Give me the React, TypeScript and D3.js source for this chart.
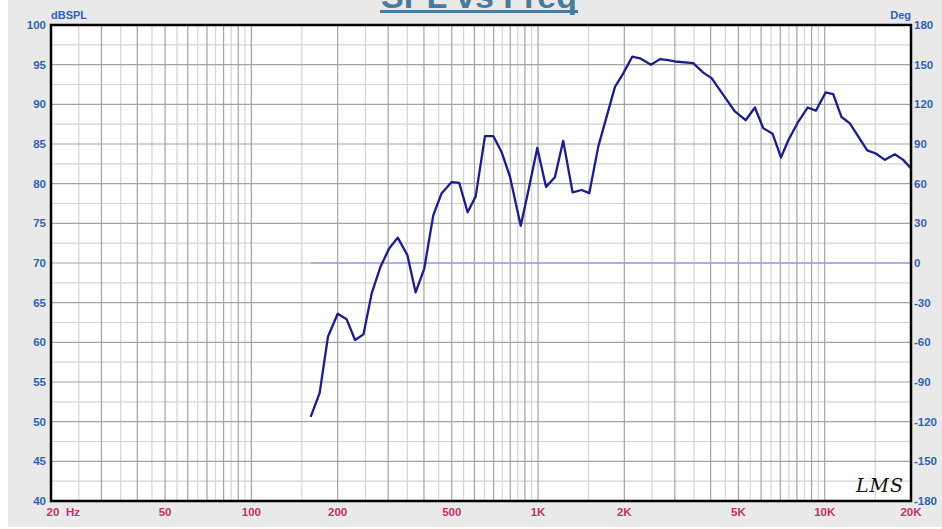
import React from "react";
import * as d3 from "d3";

// SPL response (Hz / dB)
const freqHz = [
  161, 173, 185, 200, 215, 230, 246, 263, 282, 302,
  324, 350, 374, 401, 431, 461, 500, 531, 568, 606,
  653, 698, 746, 798, 870, 924, 994, 1066, 1145, 1224,
  1320, 1419, 1509, 1623, 1855, 1983, 2131, 2267, 2477, 2662,
  2810, 3003, 3478, 3770, 4031, 4426, 4862, 5299, 5709, 6102,
  6578, 7036, 7473, 8085, 8716, 9318, 10075, 10700, 11450, 12240,
  14070, 15080, 16220, 17570, 18790, 20000,
];
const splDb = [
  50.6, 53.6, 60.7, 63.6, 62.9, 60.3, 61.0, 66.2, 69.5, 71.8,
  73.2, 71.0, 66.3, 69.3, 76.0, 78.8, 80.2, 80.1, 76.4, 78.4,
  86.0, 86.0, 84.0, 80.9, 74.7, 79.0, 84.5, 79.6, 80.8, 85.4,
  78.9, 79.2, 78.8, 84.7, 92.2, 93.9, 96.0, 95.8, 95.0, 95.7,
  95.6, 95.4, 95.2, 94.0, 93.3, 91.2, 89.1, 88.0, 89.6, 87.0,
  86.3, 83.3, 85.5, 87.8, 89.6, 89.2, 91.5, 91.3, 88.4, 87.6,
  84.2, 83.8, 83.0, 83.7, 83.0, 81.9,
];

// phase trace (flat)
const phaseHz = [161, 20000];
const phaseDeg = [0, 0];

const xTickValues = [20, 50, 100, 200, 500, 1000, 2000, 5000, 10000, 20000];
const xTickLabels = ["20", "50", "100", "200", "500", "1K", "2K", "5K", "10K", "20K"];
const dbTicks = [40, 45, 50, 55, 60, 65, 70, 75, 80, 85, 90, 95, 100];
const degTicks = [-180, -150, -120, -90, -60, -30, 0, 30, 60, 90, 120, 150, 180];

const W = 942;
const H = 529;
const M = { left: 51, right: 911, top: 25, bottom: 501 };

const FONT = "'Liberation Sans', Arial, sans-serif";
const BLUE = "#2f62b2";
const CRIMSON = "#c2306c";

export default function App() {
  const x = d3.scaleLog().domain([20, 20000]).range([M.left, M.right]);
  const y = d3.scaleLinear().domain([40, 100]).range([M.bottom, M.top]);
  const yDeg = d3.scaleLinear().domain([-180, 180]).range([M.bottom, M.top]);

  // grid: every 5 dB major, 2.5 dB minor; log grid with half steps
  const hMinor = d3.range(42.5, 100, 5);
  const vMajor: number[] = [];
  const vMinor: number[] = [];
  [10, 100, 1000, 10000].forEach((dec) => {
    for (let m = 1; m < 10; m += 0.5) {
      const f = m * dec;
      if (f <= 20 || f >= 20000) continue;
      (Number.isInteger(m) ? vMajor : vMinor).push(f);
    }
  });

  const spl = d3.line<number>()
    .x((_, i) => x(freqHz[i]))
    .y((d) => y(d));
  const phase = d3.line<number>()
    .x((_, i) => x(phaseHz[i]))
    .y((d) => yDeg(d));

  return (
    <div style={{ position: "fixed", left: 0, top: 0 }}>
      <svg width={W} height={H} style={{ display: "block" }}>
        <rect x={0} y={0} width={W} height={H} fill="#ffffff" />
        <rect x={8} y={0} width={W - 8} height={527} fill="#e9e9e9" />

        {/* title, mostly cut off at the top */}
        <text x={479} y={8} textAnchor="middle" fontFamily={FONT} fontWeight="bold"
          fontSize={34} fill="#4a7b9d">SPL vs Freq</text>
        <line x1={380} x2={578} y1={11.5} y2={11.5} stroke="#4a7b9d" strokeWidth={3} />

        <rect x={M.left} y={M.top} width={M.right - M.left} height={M.bottom - M.top} fill="#ffffff" />

        {/* grid */}
        {vMinor.map((f) => (
          <line key={"vm" + f} x1={x(f)} x2={x(f)} y1={M.top} y2={M.bottom} stroke="#d4d4d4" strokeWidth={1.2} />
        ))}
        {hMinor.map((v) => (
          <line key={"hm" + v} x1={M.left} x2={M.right} y1={y(v)} y2={y(v)} stroke="#d4d4d4" strokeWidth={1.2} />
        ))}
        {vMajor.map((f) => (
          <line key={"vM" + f} x1={x(f)} x2={x(f)} y1={M.top} y2={M.bottom} stroke="#a3a3a3" strokeWidth={1.2} />
        ))}
        {dbTicks.map((v) => (
          <line key={"hM" + v} x1={M.left} x2={M.right} y1={y(v)} y2={y(v)} stroke="#a3a3a3" strokeWidth={1.2} />
        ))}

        {/* phase */}
        <path d={phase(phaseDeg) ?? ""} fill="none" stroke="#a3a5e0" strokeWidth={1.6} />

        {/* SPL */}
        <path d={spl(splDb) ?? ""} fill="none" stroke="#1b1c8e" strokeWidth={2.3} strokeLinejoin="round" />

        <rect x={M.left} y={M.top} width={M.right - M.left} height={M.bottom - M.top}
          fill="none" stroke="#000" strokeWidth={2.5} />

        {/* left axis */}
        {dbTicks.map((v) => (
          <text key={"l" + v} x={46} y={y(v)} dy="0.36em" textAnchor="end" fontFamily={FONT}
            fontWeight="bold" fontSize={11.5} fill={BLUE}>{v}</text>
        ))}
        <text x={51} y={19} fontFamily={FONT} fontWeight="bold" fontSize={11} fill={BLUE}>dBSPL</text>

        {/* right axis */}
        {degTicks.map((v) => (
          <text key={"r" + v} x={914} y={yDeg(v)} dy="0.36em" textAnchor="start" fontFamily={FONT}
            fontWeight="bold" fontSize={11.5} fill={BLUE}>{v}</text>
        ))}
        <text x={911} y={19} textAnchor="end" fontFamily={FONT} fontWeight="bold" fontSize={11} fill={BLUE}>Deg</text>

        {/* bottom axis */}
        {xTickValues.map((f, i) => (
          <text key={"b" + f} x={i === 0 ? x(f) + 2 : x(f)} y={512} dy="0.36em" textAnchor="middle"
            fontFamily={FONT} fontWeight="bold" fontSize={11.5} fill={CRIMSON}>{xTickLabels[i]}</text>
        ))}
        <text x={73} y={512} dy="0.36em" textAnchor="middle" fontFamily={FONT} fontWeight="bold"
          fontSize={11.5} fill={CRIMSON}>Hz</text>

        {/* logo */}
        <text x={880} y={492} textAnchor="middle" fontFamily="'DejaVu Serif', serif" fontStyle="italic"
          fontSize={19} fill="#111" letterSpacing={1}>LMS</text>
      </svg>
    </div>
  );
}
